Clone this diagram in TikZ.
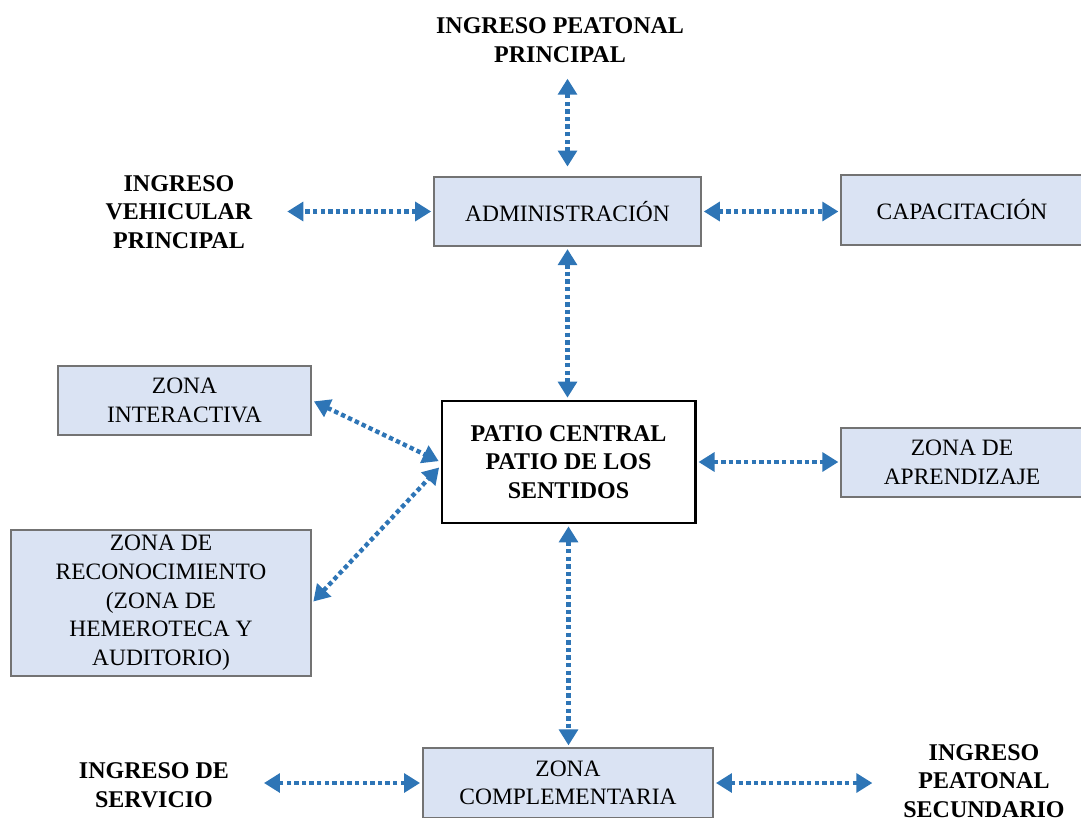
\documentclass[tikz,border=0pt]{standalone}
\usepackage{fontspec}
\setmainfont{Liberation Serif}
\usetikzlibrary{arrows.meta}
\definecolor{zonefill}{RGB}{218,227,243}
\definecolor{zoneline}{RGB}{115,115,115}
\definecolor{flowblue}{RGB}{46,117,182}

\tikzset{
  zone/.style={draw=zoneline, fill=zonefill, line width=1.4pt, align=center, inner sep=0pt,
    font=\fontsize{17.6}{21.5}\selectfont},
  patio/.style={draw=black, fill=white, line width=2pt, align=center, inner sep=0pt,
    font=\fontsize{18}{21.5}\selectfont\bfseries},
  gate/.style={align=center, inner sep=0pt, font=\fontsize{18}{21.5}\selectfont\bfseries},
  flow/.style={{Triangle[length=12pt,width=14pt]}-{Triangle[length=12pt,width=14pt]},
    draw=flowblue, line width=3.3pt, dash pattern=on 3.3pt off 2.4pt,
    shorten <=1.5pt, shorten >=1.5pt}
}

\begin{document}
\begin{tikzpicture}[x=0.75pt,y=-0.75pt]
  \useasboundingbox (0,0) rectangle (1081,817);

  % Zones
  \node[zone, minimum width=200pt, minimum height=52pt] (adm) at (567.5,211.5) {ADMINISTRACIÓN};
  \node[zone, minimum width=181pt, minimum height=52pt] (cap) at (962,210) {CAPACITACIÓN};
  \node[zone, minimum width=190pt, minimum height=52pt] (inter) at (184.5,400.5) {ZONA\\INTERACTIVA};
  \node[patio, minimum width=190pt, minimum height=91.5pt] (patio) at (568.5,462) {PATIO CENTRAL\\PATIO DE LOS\\SENTIDOS};
  \node[zone, minimum width=181pt, minimum height=52pt] (apr) at (962,462.5) {ZONA DE\\APRENDIZAJE};
  \node[zone, minimum width=225pt, minimum height=109.5pt] (recon) at (161,603) {ZONA DE\\RECONOCIMIENTO\\(ZONA DE\\HEMEROTECA Y\\AUDITORIO)};
  \node[zone, minimum width=217.5pt, minimum height=52pt] (comp) at (568,783) {ZONA\\COMPLEMENTARIA};

  % Entrances
  \node[gate] (ingP) at (560,40) {INGRESO PEATONAL\\PRINCIPAL};
  \node[gate] (ingV) at (179,212) {INGRESO\\VEHICULAR\\PRINCIPAL};
  \node[gate] (ingS) at (154,785) {INGRESO DE\\SERVICIO};
  \node[gate] (ingSec) at (984,781) {INGRESO\\PEATONAL\\SECUNDARIO};

  % Flows
  \draw[flow, shorten <=7pt, shorten >=12pt] (adm.north) -- (adm.north |- ingP.south);
  \draw[flow, shorten >=26pt] (adm.west) -- (ingV.east |- adm.west);
  \draw[flow] (adm.east) -- (cap.west |- adm.east);
  \draw[flow] (adm.south) -- (adm.south |- patio.north);
  \draw[flow] (inter.east) -- (patio.west);
  \draw[flow] (recon.east) -- ([yshift=-3pt]patio.west);
  \draw[flow] (patio.east) -- (apr.west |- patio.east);
  \draw[flow] (patio.south) -- (patio.south |- comp.north);
  \draw[flow, shorten >=26pt] (comp.west) -- (ingS.east |- comp.west);
  \draw[flow, shorten >=23pt] (comp.east) -- (ingSec.west |- comp.east);

\end{tikzpicture}
\end{document}
